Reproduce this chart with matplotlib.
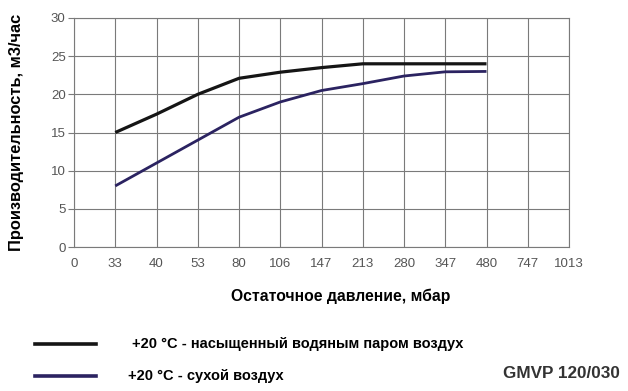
import matplotlib
matplotlib.use("Agg")
import matplotlib.pyplot as plt
from matplotlib.lines import Line2D

plt.rcParams['font.family'] = ['Liberation Sans', 'DejaVu Sans']

pressure_labels = ["0", "33", "40", "53", "80", "106", "147", "213", "280", "347", "480", "747", "1013"]
wet_labels = ["33", "40", "53", "80", "106", "147", "213", "280", "347", "480"]
wet_values = [15.0, 17.4, 20.0, 22.1, 22.9, 23.5, 24.0, 24.0, 24.0, 24.0]
dry_labels = ["33", "40", "53", "80", "106", "147", "213", "280", "347", "480"]
dry_values = [8.0, 11.0, 14.0, 17.0, 19.0, 20.5, 21.4, 22.4, 22.95, 23.0]
y_ticks = [0, 5, 10, 15, 20, 25, 30]

wet_color = "#151515"
dry_color = "#2b2361"

fig = plt.figure(figsize=(6.28, 3.91), dpi=100)
ax = fig.add_axes([74/628, 1-247/391, (569-74)/628, (247-18)/391])

idx = {lab: i for i, lab in enumerate(pressure_labels)}
ax.plot([idx[l] for l in wet_labels], wet_values, color=wet_color, lw=2.3, solid_capstyle='butt')
ax.plot([idx[l] for l in dry_labels], dry_values, color=dry_color, lw=2.0, solid_capstyle='butt')

ax.set_xlim(0, len(pressure_labels) - 1)
ax.set_ylim(0, 30)
ax.set_xticks(range(len(pressure_labels)))
ax.set_xticklabels(pressure_labels)
ax.set_yticks(y_ticks)
ax.grid(True, color="#7a7a7a", lw=0.8)
ax.set_axisbelow(True)
for s in ax.spines.values():
    s.set_color("#7a7a7a")
    s.set_linewidth(0.8)
ax.tick_params(axis='x', length=0, pad=8, labelsize=9.5, labelcolor="#555555")
ax.tick_params(axis='y', length=4, color="#7a7a7a", pad=2, labelsize=9.5, labelcolor="#555555")

fig.text(17/628, 1-132/391, "Производительность, м3/час", rotation=90, ha='center', va='center',
         fontsize=11.8, fontweight='bold')
fig.text(341/628, 1-296/391, "Остаточное давление, мбар", ha='center', va='center',
         fontsize=11.3, fontweight='bold')

fig.add_artist(Line2D([35/628, 96/628], [1-344/391, 1-344/391], color=wet_color, lw=2.6))
fig.add_artist(Line2D([35/628, 96/628], [1-376/391, 1-376/391], color=dry_color, lw=2.6))
fig.text(132/628, 1-344/391, "+20 °C - насыщенный водяным паром воздух", ha='left', va='center',
         fontsize=10.5, fontweight='bold')
fig.text(128/628, 1-376/391, "+20 °C - сухой воздух", ha='left', va='center',
         fontsize=10.5, fontweight='bold')
fig.text(620/628, 1-374/391, "GMVP 120/030", ha='right', va='center',
         fontsize=12.3, fontweight='bold', color="#333333")

fig.savefig("out.png", dpi=100)
